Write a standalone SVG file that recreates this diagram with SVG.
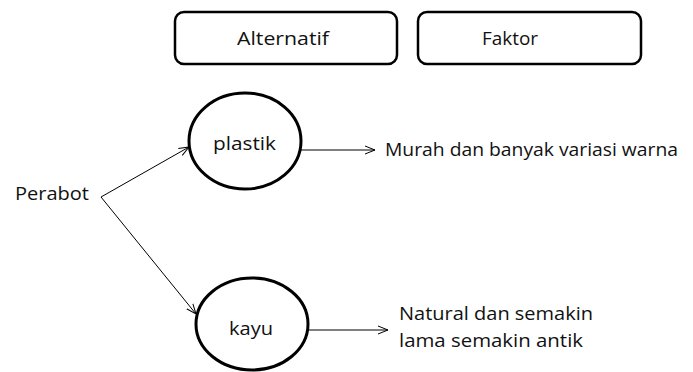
<svg xmlns="http://www.w3.org/2000/svg" width="693" height="372" viewBox="0 0 693 372">
<style>
text{font-family:"Open Sans","Liberation Sans",Arial,sans-serif;font-size:19px;fill:#111}
.box{fill:#fff;stroke:#000;stroke-width:2.5}
.node{fill:#fff;stroke:#000;stroke-width:3}
.edge{stroke:#000;stroke-width:1;fill:none}
</style>
<defs>
<marker id="arr" viewBox="0 0 10 10" refX="10" refY="5" markerWidth="10" markerHeight="10" markerUnits="userSpaceOnUse" orient="auto">
<polyline points="0,1 10,5 0,9" fill="none" stroke="#000" stroke-width="1"/>
</marker>
</defs>
<rect width="693" height="372" fill="#fff"/>
<g id="alternatif">
<rect class="box" x="175" y="12" width="222" height="52" rx="9"/>
<text x="237" y="45" textLength="92" lengthAdjust="spacingAndGlyphs">Alternatif</text>
</g>
<g id="faktor">
<rect class="box" x="418" y="12" width="223" height="52" rx="9"/>
<text x="482" y="45" textLength="56" lengthAdjust="spacingAndGlyphs">Faktor</text>
</g>
<g id="connectors">
<line class="edge" x1="101" y1="197" x2="189" y2="147" marker-end="url(#arr)"/>
<line class="edge" x1="101" y1="197" x2="196" y2="314" marker-end="url(#arr)"/>
<line class="edge" x1="301" y1="150" x2="375" y2="150" marker-end="url(#arr)"/>
<line class="edge" x1="308" y1="330" x2="388" y2="330" marker-end="url(#arr)"/>
</g>
<g id="perabot">
<text x="15" y="200" textLength="74" lengthAdjust="spacingAndGlyphs">Perabot</text>
</g>
<g id="plastik">
<ellipse class="node" cx="245" cy="141" rx="56" ry="48"/>
<text x="213" y="150" textLength="63" lengthAdjust="spacingAndGlyphs">plastik</text>
</g>
<g id="kayu">
<ellipse class="node" cx="252" cy="324" rx="56" ry="46"/>
<text x="229" y="335" textLength="44" lengthAdjust="spacingAndGlyphs">kayu</text>
</g>
<g id="faktor-plastik">
<text x="385" y="156" textLength="293" lengthAdjust="spacingAndGlyphs">Murah dan banyak variasi warna</text>
</g>
<g id="faktor-kayu">
<text x="399" y="320" textLength="194" lengthAdjust="spacingAndGlyphs">Natural dan semakin</text>
<text x="399" y="347" textLength="184" lengthAdjust="spacingAndGlyphs">lama semakin antik</text>
</g>
</svg>
